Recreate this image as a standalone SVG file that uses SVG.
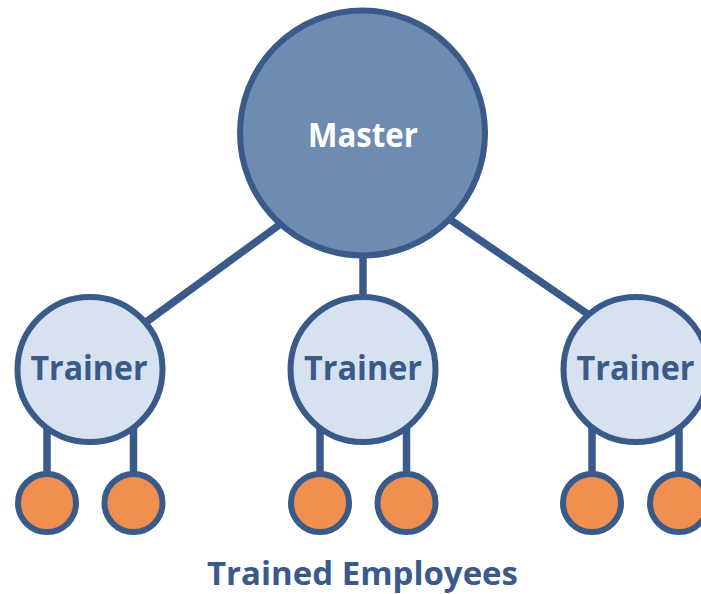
<svg xmlns="http://www.w3.org/2000/svg" width="701" height="594" viewBox="0 0 701 594">
  <style>
    .edge { stroke: #3a5a8a; stroke-width: 7.5; fill: none; }
    .master { fill: #6e8cb2; stroke: #3a5a8a; stroke-width: 6; }
    .trainer { fill: #d6e2f0; stroke: #3a5a8a; stroke-width: 6; }
    .employee { fill: #f08f4f; stroke: #3a5a8a; stroke-width: 6; }
    .label { font-family: "Open Sans", "Noto Sans", "Liberation Sans", sans-serif; font-weight: bold; font-size: 34px; text-anchor: middle; }
    .caption { font-size: 32px; }
    .dark { fill: #3a5a8a; }
    .light { fill: #ffffff; }
  </style>
  <rect width="701" height="594" fill="#ffffff"/>

  <!-- connectors -->
  <g id="connectors">
    <line class="edge" x1="290" y1="217" x2="133" y2="331.6"/>
    <line class="edge" x1="363" y1="240" x2="363" y2="310"/>
    <line class="edge" x1="440" y1="212.6" x2="600" y2="322.5"/>
    <line class="edge" x1="47" y1="420" x2="47" y2="490"/>
    <line class="edge" x1="133.5" y1="420" x2="133.5" y2="490"/>
    <line class="edge" x1="320" y1="420" x2="320" y2="490"/>
    <line class="edge" x1="406.5" y1="420" x2="406.5" y2="490"/>
    <line class="edge" x1="592" y1="420" x2="592" y2="490"/>
    <line class="edge" x1="679" y1="420" x2="679" y2="490"/>
  </g>

  <g id="master">
    <circle class="master" cx="362.5" cy="133" r="122.5"/>
    <text class="label light" x="363" y="146.5" textLength="110" lengthAdjust="spacingAndGlyphs">Master</text>
  </g>

  <g id="trainer-1">
    <circle class="trainer" cx="90" cy="369.5" r="72.5"/>
    <text class="label dark" x="89" y="380" textLength="117" lengthAdjust="spacingAndGlyphs">Trainer</text>
  </g>
  <g id="trainer-2">
    <circle class="trainer" cx="363" cy="369.5" r="72.5"/>
    <text class="label dark" x="363" y="380" textLength="118" lengthAdjust="spacingAndGlyphs">Trainer</text>
  </g>
  <g id="trainer-3">
    <circle class="trainer" cx="636" cy="369.5" r="72.5"/>
    <text class="label dark" x="635.5" y="380" textLength="118" lengthAdjust="spacingAndGlyphs">Trainer</text>
  </g>

  <g id="employee-1"><circle class="employee" cx="47" cy="503" r="29"/></g>
  <g id="employee-2"><circle class="employee" cx="133.5" cy="503" r="29"/></g>
  <g id="employee-3"><circle class="employee" cx="320" cy="503" r="29"/></g>
  <g id="employee-4"><circle class="employee" cx="406.5" cy="503" r="29"/></g>
  <g id="employee-5"><circle class="employee" cx="592" cy="503" r="29"/></g>
  <g id="employee-6"><circle class="employee" cx="679" cy="503" r="29"/></g>

  <g id="caption">
    <text class="label caption dark" x="362.5" y="585" textLength="311" lengthAdjust="spacingAndGlyphs">Trained Employees</text>
  </g>
</svg>
